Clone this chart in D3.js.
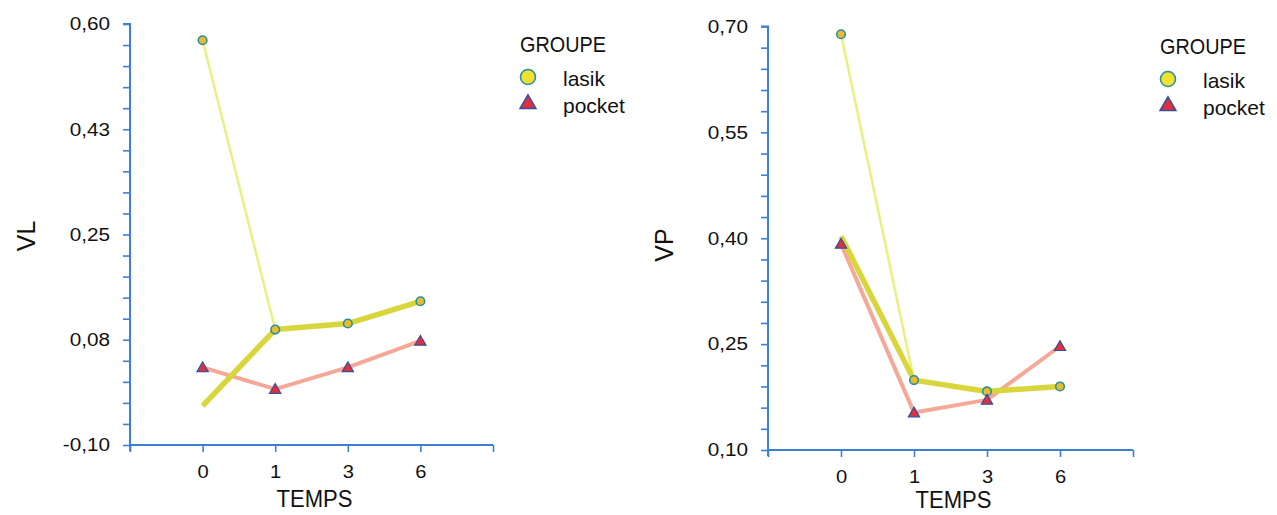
<!DOCTYPE html>
<html><head><meta charset="utf-8">
<script src="https://cdn.jsdelivr.net/npm/d3@7"></script>
<style>
html,body{margin:0;padding:0;background:#fff;}
svg text{font-family:"Liberation Sans",Arial,sans-serif;fill:#111;}
</style></head>
<body>
<svg id="chart" width="1277" height="515"></svg>
<script>
// ---- data ----
const categories = ["0", "1", "3", "6"];
const groups = ["lasik", "pocket"];

const vlTickLabels = ["-0,10", "0,08", "0,25", "0,43", "0,60"];
const vlLasikMeans = [0.573, 0.092, 0.102, 0.139];
const vlLasikFit   = [-0.035, 0.092, 0.102, 0.139];
const vlPocket     = [0.029, -0.007, 0.029, 0.073];

const vpTickLabels = ["0,10", "0,25", "0,40", "0,55", "0,70"];
const vpLasikMeans = [0.689, 0.199, 0.183, 0.190];
const vpLasikFit   = [0.403, 0.199, 0.183, 0.190];
const vpPocket     = [0.392, 0.153, 0.171, 0.247];

// ---- drawing ----
const svg = d3.select("#chart");
const AXIS = "#3d7fd6";

function stretch(sel, k) {
  sel.each(function () {
    const w = this.getComputedTextLength();
    if (w > 0) d3.select(this).attr("textLength", w * k).attr("lengthAdjust", "spacingAndGlyphs");
  });
}

function panel(cfg) {
  const g = svg.append("g");
  const x = d3.scaleLinear().domain([-1, categories.length]).range([cfg.x0, cfg.x1]);
  const y = d3.scaleLinear().domain(cfg.domain).range([cfg.y0, cfg.y1]);
  const step = (cfg.domain[1] - cfg.domain[0]) / 20;
  const yTicks = d3.range(21).map(i => cfg.domain[0] + i * step);

  // y axis
  const ya = g.append("g").attr("transform", `translate(${cfg.x0},0)`)
    .call(d3.axisLeft(y).tickValues(yTicks).tickSize(7).tickPadding(13)
      .tickFormat((d, i) => i % 5 === 0 ? cfg.tickLabels[i / 5] : ""));
  ya.select(".domain").attr("stroke", AXIS).attr("stroke-width", 2).attr("d", `M0,${cfg.y0 + 6}V${cfg.y1}H-7`);
  ya.selectAll(".tick line").attr("stroke", AXIS).attr("stroke-width", 1.6);
  ya.selectAll(".tick text").style("font-size", "18px").attr("fill", "#111").call(stretch, 1.15);

  // x axis
  const xa = g.append("g").attr("transform", `translate(0,${cfg.y0})`)
    .call(d3.axisBottom(x).tickValues(d3.range(-1, categories.length + 1)).tickSize(7).tickPadding(13)
      .tickFormat(d => (d >= 0 && d < categories.length) ? categories[d] : ""));
  xa.select(".domain").attr("stroke", AXIS).attr("stroke-width", 2).attr("d", `M${cfg.x0},0H${cfg.x1}`);
  xa.selectAll(".tick line").attr("stroke", AXIS).attr("stroke-width", 1.6);
  xa.selectAll(".tick text").style("font-size", "18px").attr("fill", "#111").call(stretch, 1.12);

  const line = d3.line().x((d, i) => x(i)).y(d => y(d));

  // lines
  g.append("path").datum(cfg.lasikMeans).attr("d", line)
    .attr("fill", "none").attr("stroke", "#eaf080").attr("stroke-width", 2.5);
  g.append("path").datum(cfg.pocket).attr("d", line)
    .attr("fill", "none").attr("stroke", "#f6a898").attr("stroke-width", 4).attr("stroke-linejoin", "round");
  g.append("path").datum(cfg.lasikFit).attr("d", line)
    .attr("fill", "none").attr("stroke", "#d8d63c").attr("stroke-width", 5.5).attr("stroke-linejoin", "round");

  // markers
  g.selectAll("circle.m").data(cfg.lasikMeans).enter().append("circle")
    .attr("cx", (d, i) => x(i)).attr("cy", d => y(d)).attr("r", 4.3)
    .attr("fill", "#e8bc30").attr("stroke", "#2b8fa0").attr("stroke-width", 1.6);
  const tri = d3.symbol().type(d3.symbolTriangle).size(55);
  g.selectAll("path.t").data(cfg.pocket).enter().append("path")
    .attr("d", tri).attr("transform", (d, i) => `translate(${x(i)},${y(d) + 1})`)
    .attr("fill", "#e0303c").attr("stroke", "#34509a").attr("stroke-width", 1.2);

  // axis titles
  g.append("text").text(cfg.yTitle)
    .attr("transform", `translate(${cfg.yTitleX},${cfg.yTitleY}) rotate(-90)`)
    .attr("text-anchor", "middle").style("font-size", "25px");
  g.append("text").text("TEMPS")
    .attr("x", (cfg.x0 + cfg.x1) / 2 + 3).attr("y", cfg.xTitleY)
    .attr("text-anchor", "middle").style("font-size", "24px")
    .attr("textLength", 76).attr("lengthAdjust", "spacingAndGlyphs");

  // legend
  const L = g.append("g").attr("transform", `translate(${cfg.legX},${cfg.legY})`);
  L.append("text").text("GROUPE").attr("x", -8).attr("y", 0).style("font-size", "22px")
    .attr("textLength", 86).attr("lengthAdjust", "spacingAndGlyphs");
  L.append("circle").attr("cx", 0).attr("cy", 25).attr("r", 7.5)
    .attr("fill", "#f0e030").attr("stroke", "#2b8fa0").attr("stroke-width", 1.6);
  L.append("path").attr("d", d3.symbol().type(d3.symbolTriangle).size(110))
    .attr("transform", `translate(0,${cfg.legGap + 25})`)
    .attr("fill", "#e0303c").attr("stroke", "#34509a").attr("stroke-width", 1.5);
  L.append("text").text(groups[0]).attr("x", 35).attr("y", 34).style("font-size", "21px");
  L.append("text").text(groups[1]).attr("x", 35).attr("y", 34 + cfg.legGap).style("font-size", "21px");
}

panel({
  x0: 130, x1: 493, y0: 445, y1: 24, domain: [-0.10, 0.60],
  tickLabels: vlTickLabels, lasikMeans: vlLasikMeans, lasikFit: vlLasikFit, pocket: vlPocket,
  yTitle: "VL", yTitleX: 35, yTitleY: 236, xTitleY: 507,
  legX: 528, legY: 52, legGap: 27
});
panel({
  x0: 768, x1: 1133, y0: 450, y1: 26.5, domain: [0.10, 0.70],
  tickLabels: vpTickLabels, lasikMeans: vpLasikMeans, lasikFit: vpLasikFit, pocket: vpPocket,
  yTitle: "VP", yTitleX: 673, yTitleY: 245, xTitleY: 508,
  legX: 1168, legY: 54, legGap: 27
});
</script>
</body></html>
